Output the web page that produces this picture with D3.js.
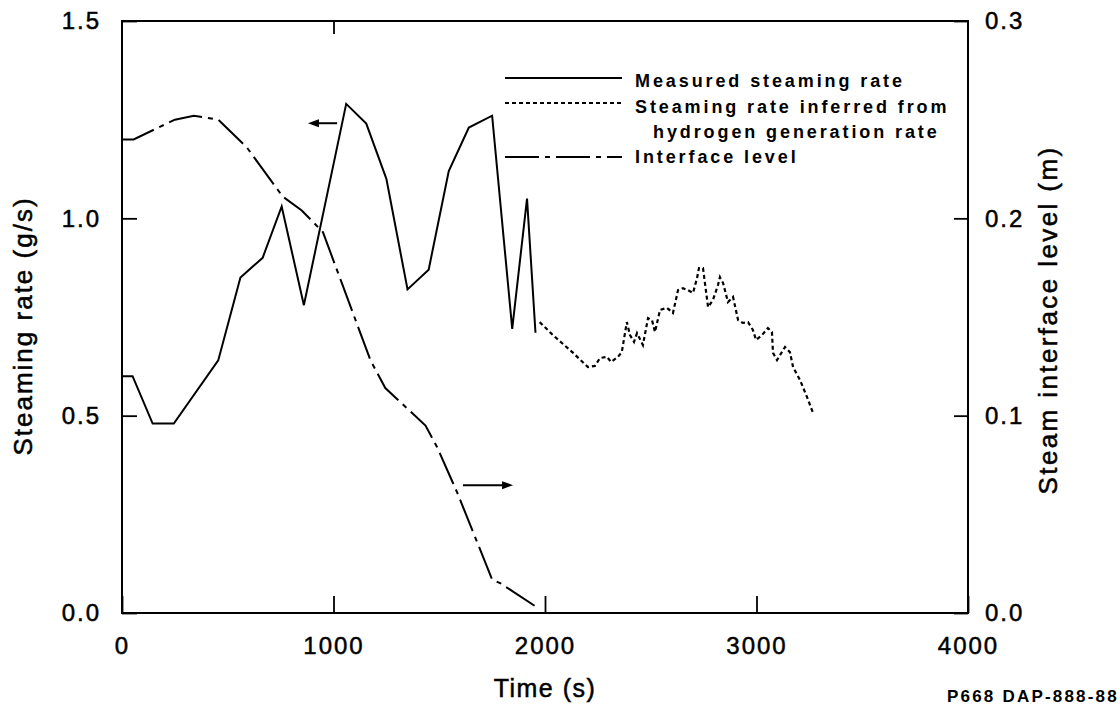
<!DOCTYPE html>
<html>
<head>
<meta charset="utf-8">
<script src="https://cdn.jsdelivr.net/npm/d3@7"></script>
<style>
  html, body { margin: 0; padding: 0; background: #fff; }
  svg { display: block; font-family: "Liberation Sans", Arial, Helvetica, sans-serif; }
</style>
</head>
<body>
<svg id="chart" width="1120" height="705"></svg>
<script>
// ---- Data ----
const measuredTime = [0, 50, 145, 245, 455, 560, 665, 755, 860, 1060, 1155, 1250, 1350, 1450, 1545, 1640, 1750, 1845, 1915, 1955];
const measuredRate = [0.60, 0.60, 0.48, 0.48, 0.64, 0.85, 0.90, 1.03, 0.78, 1.29, 1.24, 1.10, 0.82, 0.87, 1.12, 1.23, 1.26, 0.72, 1.05, 0.71];

const inferredTime = [1975, 2038, 2133, 2203, 2236, 2260, 2293, 2312, 2345, 2363, 2387, 2402, 2421, 2435, 2463, 2487, 2506, 2520, 2544, 2577, 2605, 2629, 2652, 2676, 2700, 2719, 2728, 2747, 2771, 2794, 2818, 2827, 2842, 2865, 2889, 2913, 2936, 2960, 2983, 2998, 3026, 3054, 3073, 3078, 3097, 3135, 3158, 3173, 3206, 3239, 3267];
const inferredRate = [0.737, 0.704, 0.659, 0.623, 0.626, 0.646, 0.649, 0.636, 0.649, 0.661, 0.737, 0.704, 0.687, 0.709, 0.679, 0.747, 0.742, 0.712, 0.768, 0.773, 0.760, 0.818, 0.823, 0.818, 0.811, 0.849, 0.874, 0.874, 0.775, 0.793, 0.831, 0.851, 0.836, 0.788, 0.801, 0.742, 0.735, 0.737, 0.717, 0.692, 0.704, 0.722, 0.712, 0.659, 0.641, 0.674, 0.661, 0.623, 0.590, 0.547, 0.507];

const interfaceTime  = [0, 55, 250, 340, 455, 590, 760, 850, 950, 1040, 1175, 1245, 1345, 1435, 1490, 1585, 1750, 1790, 1960];
const interfaceLevel = [0.240, 0.240, 0.250, 0.252, 0.250, 0.236, 0.211, 0.204, 0.193, 0.167, 0.128, 0.114, 0.104, 0.095, 0.084, 0.061, 0.017, 0.015, 0.003];

const xTicks = [0, 1000, 2000, 3000, 4000];
const xTopTicks = [1000];
const leftTicks = [0.0, 0.5, 1.0, 1.5];
const rightTicks = [0.0, 0.1, 0.2, 0.3];

const legendLabels = [
  ["Measured steaming rate"],
  ["Steaming rate inferred from", "hydrogen generation rate"],
  ["Interface level"]
];
const xTitle = "Time (s)";
const leftTitle = "Steaming rate (g/s)";
const rightTitle = "Steam interface level (m)";
const footnote = "P668 DAP-888-88";

// Arrow annotations in data units: [time start, time end, left-axis value]
const arrowLeft  = [1017, 879, 1.241];
const arrowRight = [1612, 1849, 0.324];

// ---- Layout ----
const svg = d3.select("#chart");
const L = 122, R = 968, T = 21, B = 613;
const x  = d3.scaleLinear().domain([0, 4000]).range([L, R]);
const yL = d3.scaleLinear().domain([0, 1.5]).range([B, T]);
const yR = d3.scaleLinear().domain([0, 0.3]).range([B, T]);

const lw = 2;
const ink = t => t.attr("fill", "#000").attr("stroke", "#000").attr("stroke-width", 0.5);

// Axes
const gBottom = svg.append("g").attr("transform", `translate(0,${B})`)
  .call(d3.axisBottom(x).tickValues(xTicks).tickSizeInner(-17).tickSizeOuter(0).tickPadding(24).tickFormat(d3.format("d")));
const gTop = svg.append("g").attr("transform", `translate(0,${T})`)
  .call(d3.axisTop(x).tickValues(xTopTicks).tickSizeInner(-13).tickSizeOuter(0).tickFormat(""));
const gLeft = svg.append("g").attr("transform", `translate(${L},0)`)
  .call(d3.axisLeft(yL).tickValues(leftTicks).tickSizeInner(-15).tickSizeOuter(0).tickPadding(21).tickFormat(d3.format(".1f")));
const gRight = svg.append("g").attr("transform", `translate(${R},0)`)
  .call(d3.axisRight(yR).tickValues(rightTicks).tickSizeInner(-14).tickSizeOuter(0).tickPadding(17).tickFormat(d3.format(".1f")));

[gBottom, gTop, gLeft, gRight].forEach(g => {
  g.select(".domain").remove();
  g.selectAll(".tick line").attr("stroke", "#000").attr("stroke-width", 1.8);
  g.selectAll(".tick text").call(ink).style("font-size", "24px")
    .style("font-family", "'Liberation Sans', Arial, sans-serif").attr("letter-spacing", "2px");
  g.attr("font-family", null).attr("font-size", null);
});

// Frame
svg.append("rect").attr("x", L).attr("y", T).attr("width", R - L).attr("height", B - T)
  .attr("fill", "none").attr("stroke", "#000").attr("stroke-width", lw);

// Lines
const lineL = d3.line().x(d => x(d[0])).y(d => yL(d[1]));
const lineR = d3.line().x(d => x(d[0])).y(d => yR(d[1]));

const measured = measuredTime.map((t, i) => [t, measuredRate[i]]);
const inferred = inferredTime.map((t, i) => [t, inferredRate[i]]);
const iface = interfaceTime.map((t, i) => [t, interfaceLevel[i]]);

svg.append("path").datum(iface).attr("d", lineR)
  .attr("fill", "none").attr("stroke", "#000").attr("stroke-width", lw)
  .attr("stroke-dasharray", "34,6,5,6");
svg.append("path").datum(measured).attr("d", lineL)
  .attr("fill", "none").attr("stroke", "#000").attr("stroke-width", lw).attr("stroke-linejoin", "miter");
svg.append("path").datum(inferred).attr("d", lineL)
  .attr("fill", "none").attr("stroke", "#000").attr("stroke-width", 2.2)
  .attr("stroke-dasharray", "4,3");

// Arrows
function arrow(a) {
  const x0 = x(a[0]), x1 = x(a[1]), yy = yL(a[2]);
  const dir = Math.sign(x1 - x0);
  svg.append("line").attr("x1", x0).attr("x2", x1 - dir * 8).attr("y1", yy).attr("y2", yy)
    .attr("stroke", "#000").attr("stroke-width", 2);
  svg.append("path")
    .attr("d", `M${x1},${yy} L${x1 - dir * 11},${yy - 4} L${x1 - dir * 11},${yy + 4} Z`)
    .attr("fill", "#000");
}
arrow(arrowLeft);
arrow(arrowRight);

// Legend
const lgX0 = 505, lgX1 = 622, txtX = 635;
const legendStyles = [null, "4,3", "34,6,5,6"];
const legendLineY = [78, 103, 157];
const legendBase = [[87], [113, 138], [163]];
legendLabels.forEach((lines, i) => {
  const ln = svg.append("line").attr("x1", lgX0).attr("x2", lgX1)
    .attr("y1", legendLineY[i]).attr("y2", legendLineY[i])
    .attr("stroke", "#000").attr("stroke-width", lw);
  if (legendStyles[i]) ln.attr("stroke-dasharray", legendStyles[i]);
  lines.forEach((s, j) => {
    svg.append("text").attr("x", txtX + (j > 0 ? 18 : 0)).attr("y", legendBase[i][j])
      .text(s).attr("fill", "#000").style("font-size", "18px").style("font-weight", "bold")
      .attr("letter-spacing", "2.9px");
  });
});

// Axis titles
svg.append("text").attr("x", x(2000)).attr("y", 697).attr("text-anchor", "middle")
  .text(xTitle).style("font-size", "25px").attr("letter-spacing", "1.5px").call(ink);
svg.append("text").attr("transform", `translate(32,326) rotate(-90)`)
  .attr("text-anchor", "middle").text(leftTitle).style("font-size", "26px").attr("letter-spacing", "2px").call(ink);
svg.append("text").attr("transform", `translate(1057,320) rotate(-90)`)
  .attr("text-anchor", "middle").text(rightTitle).style("font-size", "26px").attr("letter-spacing", "2.4px").call(ink);

// Footnote
svg.append("text").attr("x", 947).attr("y", 702).text(footnote)
  .style("font-size", "17px").style("font-weight", "bold").attr("letter-spacing", "2.2px");
</script>
</body>
</html>
